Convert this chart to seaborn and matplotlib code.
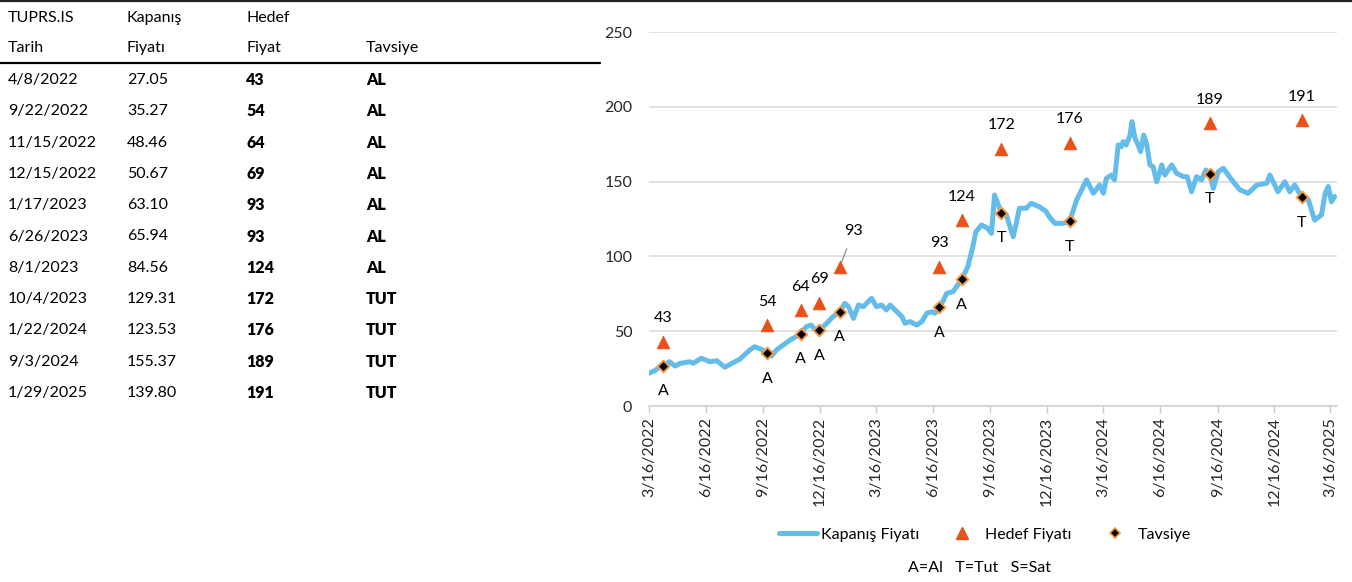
import matplotlib
matplotlib.use("Agg")
import matplotlib.pyplot as plt
from matplotlib.lines import Line2D
import seaborn as sns
import pandas as pd

# ---------------- data ----------------
price_dates = [
    "2022-03-16", "2022-03-25", "2022-04-02", "2022-04-08", "2022-04-18", "2022-04-27",
    "2022-05-05", "2022-05-21", "2022-05-26", "2022-06-08", "2022-06-22", "2022-07-03",
    "2022-07-16", "2022-07-29", "2022-08-09", "2022-08-25", "2022-09-02", "2022-09-13",
    "2022-09-22", "2022-09-29", "2022-10-07", "2022-10-18", "2022-10-29", "2022-11-08",
    "2022-11-15", "2022-11-24", "2022-12-02", "2022-12-10", "2022-12-15", "2022-12-27",
    "2023-01-06", "2023-01-17", "2023-01-25", "2023-01-31", "2023-02-08", "2023-02-16",
    "2023-02-24", "2023-03-09", "2023-03-17", "2023-03-25", "2023-04-02", "2023-04-08",
    "2023-04-19", "2023-04-27", "2023-05-02", "2023-05-10", "2023-05-21", "2023-05-29",
    "2023-06-06", "2023-06-14", "2023-06-19", "2023-06-26", "2023-07-03", "2023-07-08",
    "2023-07-18",
    "2023-08-01", "2023-08-11", "2023-08-19", "2023-08-24", "2023-09-02", "2023-09-12",
    "2023-09-18", "2023-09-23", "2023-09-28", "2023-10-04", "2023-10-12", "2023-10-23",
    "2023-10-28", "2023-11-02", "2023-11-13", "2023-11-21", "2023-12-04", "2023-12-15",
    "2023-12-20", "2023-12-29", "2024-01-11", "2024-01-22", "2024-02-02", "2024-02-18",
    "2024-02-29", "2024-03-10", "2024-03-16", "2024-03-21", "2024-03-29", "2024-04-03",
    "2024-04-09", "2024-04-14", "2024-04-17", "2024-04-22", "2024-04-28", "2024-05-01",
    "2024-05-06", "2024-05-11", "2024-05-15", "2024-05-20", "2024-05-25", "2024-05-30",
    "2024-06-04", "2024-06-10", "2024-06-18", "2024-06-23", "2024-07-04", "2024-07-12",
    "2024-07-23", "2024-07-29", "2024-08-05", "2024-08-13", "2024-08-21", "2024-08-28",
    "2024-09-03", "2024-09-09", "2024-09-17", "2024-09-25", "2024-10-11",
    "2024-10-22", "2024-11-04", "2024-11-18", "2024-12-04", "2024-12-09", "2024-12-22",
    "2025-01-02", "2025-01-10", "2025-01-18", "2025-01-29", "2025-02-09", "2025-02-19",
    "2025-03-02", "2025-03-08", "2025-03-13", "2025-03-18", "2025-03-23",
]
price_values = [
    21.9, 23.6, 25.9, 27.05, 29.6, 26.7,
    28.5, 29.6, 28.5, 31.9, 29.6, 30.3,
    25.9, 28.9, 31.2, 37.4, 39.6, 37.9,
    35.27, 33.4, 37.4, 40.8, 44.1, 46.5,
    48.46, 53.0, 54.1, 50.3, 50.67, 55.3,
    59.7, 63.10, 68.6, 66.4, 58.6, 67.5,
    66.4, 72.0, 66.4, 67.5, 64.2, 67.5,
    63.0, 59.7, 55.3, 56.4, 54.1, 56.4,
    62.0, 63.0, 62.0, 65.94, 70.9, 75.3,
    76.4,
    84.56, 93.1, 106.5, 116.5, 121.0, 118.8,
    115.4, 141.0, 135.5, 129.31, 127.7, 113.2,
    122.1, 132.2, 132.2, 135.5, 133.2, 130.0,
    126.5, 122.1, 122.1, 123.53, 137.7, 151.1,
    142.2, 147.7, 142.2, 152.2, 154.4, 151.1,
    174.5, 173.3, 176.7, 174.5, 181.1, 190.1,
    178.9, 174.5, 170.0, 181.1, 174.5, 161.1,
    160.0, 149.9, 161.1, 154.4, 161.1, 155.5,
    153.3, 153.3, 143.2, 153.3, 151.1, 157.8,
    155.37, 145.5, 156.6, 158.9, 149.9,
    144.4, 142.2, 147.7, 148.9, 154.4, 143.2,
    149.9, 143.2, 147.7, 139.80, 137.7, 124.3,
    127.7, 142.2, 146.7, 136.6, 140.0,
]

ticker = "TUPRS.IS"
rec_dates = ["2022-04-08", "2022-09-22", "2022-11-15", "2022-12-15", "2023-01-17",
             "2023-06-26", "2023-08-01", "2023-10-04", "2024-01-22", "2024-09-03", "2025-01-29"]
rec_close = [27.05, 35.27, 48.46, 50.67, 63.10, 65.94, 84.56, 129.31, 123.53, 155.37, 139.80]
rec_target = [43, 54, 64, 69, 93, 93, 124, 172, 176, 189, 191]
rec_code = ["AL", "AL", "AL", "AL", "AL", "AL", "AL", "TUT", "TUT", "TUT", "TUT"]
rec_letter = {"AL": "A", "TUT": "T", "SAT": "S"}

header_row1 = [ticker, "Kapanış", "Hedef", ""]
header_row2 = ["Tarih", "Fiyatı", "Fiyat", "Tavsiye"]
legend_labels = ["Kapanış Fiyatı", "Hedef Fiyatı", "Tavsiye"]
legend_note = "A=Al   T=Tut   S=Sat"

tick_start = "2022-03-16"
n_ticks = 13
y_ticks = [0, 50, 100, 150, 200, 250]

# ---------------- style ----------------
LINE_C = "#63BCEA"
TRI_C = "#EA5119"
DIA_EDGE = "#F39A4A"
FONT = ["Lato", "DejaVu Sans"]
FS = 11.5

sns.set_theme(style="white")
plt.rcParams["font.family"] = FONT
plt.rcParams["text.color"] = "#000000"

W, H = 1352, 582
fig = plt.figure(figsize=(W / 100, H / 100), dpi=100)

def fx(px):
    return px / W

def fy(py):
    return 1 - py / H

# ---------------- table ----------------
col_x = [8, 127, 246, 366]
for i, t in enumerate(header_row1):
    fig.text(fx(col_x[i]), fy(18), t, fontsize=FS, va="center", ha="left")
for i, t in enumerate(header_row2):
    fig.text(fx(col_x[i]), fy(48), t, fontsize=FS, va="center", ha="left")

fig.add_artist(Line2D([0, fx(600)], [fy(63), fy(63)], transform=fig.transFigure,
                      color="black", lw=1.6))
fig.add_artist(Line2D([0, 1], [fy(1), fy(1)], transform=fig.transFigure,
                      color="#222222", lw=1.6))

for r, (d, c, tg, code) in enumerate(zip(rec_dates, rec_close, rec_target, rec_code)):
    y = fy(80 + r * 31.3)
    ts = pd.Timestamp(d)
    fig.text(fx(col_x[0]), y, f"{ts.month}/{ts.day}/{ts.year}", fontsize=FS, va="center")
    fig.text(fx(col_x[1]), y, f"{c:.2f}", fontsize=FS, va="center")
    fig.text(fx(col_x[2]), y, f"{tg}", fontsize=FS, va="center", fontweight="heavy")
    fig.text(fx(col_x[3]), y, code, fontsize=FS, va="center", fontweight="heavy")

# ---------------- chart ----------------
ax = fig.add_axes([fx(649), fy(406), fx(1337) - fx(649), fy(32) - fy(406)])

price_df = pd.DataFrame({"Tarih": pd.to_datetime(price_dates), "Fiyat": price_values})
rec_df = pd.DataFrame({"Tarih": pd.to_datetime(rec_dates), "Kapanis": rec_close,
                       "Hedef": rec_target, "Kod": rec_code})

sns.lineplot(data=price_df, x="Tarih", y="Fiyat", ax=ax, color=LINE_C, lw=3.6,
             zorder=2, legend=False)
sns.scatterplot(data=rec_df, x="Tarih", y="Hedef", ax=ax, marker="^", s=85,
                color=TRI_C, edgecolor=TRI_C, linewidth=0.5, zorder=3, legend=False)
sns.scatterplot(data=rec_df, x="Tarih", y="Kapanis", ax=ax, marker="D", s=36,
                color="black", edgecolor=DIA_EDGE, linewidth=1.4, zorder=4, legend=False)

for i, row in rec_df.iterrows():
    if i == 4:
        ax.annotate(f"{row.Hedef}", xy=(row.Tarih, row.Hedef), xytext=(10, 26),
                    textcoords="offset points", ha="center", va="center", fontsize=FS,
                    arrowprops=dict(arrowstyle="-", color="#8c8c8c", lw=0.9,
                                    shrinkA=6, shrinkB=3))
    else:
        ax.annotate(f"{row.Hedef}", xy=(row.Tarih, row.Hedef), xytext=(0, 17),
                    textcoords="offset points", ha="center", va="center", fontsize=FS)
    ax.annotate(rec_letter[row.Kod], xy=(row.Tarih, row.Kapanis), xytext=(0, -18.5),
                textcoords="offset points", ha="center", va="center", fontsize=FS)

ticks = pd.date_range(tick_start, periods=n_ticks, freq=pd.DateOffset(months=3))
ax.set_xlim(pd.Timestamp(tick_start), pd.Timestamp("2025-03-27"))
ax.set_xticks(ticks)
ax.set_xticklabels([f"{t.month}/{t.day}/{t.year}" for t in ticks], rotation=90,
                   fontsize=FS)
ax.set_ylim(0, 250)
ax.set_yticks(y_ticks)
ax.set_yticklabels([str(v) for v in y_ticks], fontsize=FS)
ax.set_xlabel("")
ax.set_ylabel("")
ax.grid(axis="y", color="#d9d9d9", lw=1.1)
ax.grid(axis="x", visible=False)
for s in ["top", "right", "left"]:
    ax.spines[s].set_visible(False)
ax.spines["bottom"].set_color("#d0d0d0")
ax.spines["bottom"].set_linewidth(1.1)
ax.tick_params(axis="x", direction="out", length=5, color="#c8c8c8", width=1, pad=3,
               bottom=True)
ax.tick_params(axis="y", length=0, pad=12)

# ---------------- legend ----------------
handles = [
    Line2D([], [], color=LINE_C, lw=3.6),
    Line2D([], [], ls="", marker="^", ms=9, color=TRI_C),
    Line2D([], [], ls="", marker="D", ms=5.5, markerfacecolor="black",
           markeredgecolor=DIA_EDGE, markeredgewidth=1.2),
]
fig.legend(handles, legend_labels, loc="center", bbox_to_anchor=(fx(985), fy(535)),
           ncol=3, frameon=False, fontsize=FS, handlelength=2.4, columnspacing=1.5,
           handletextpad=0.25)
fig.text(fx(980), fy(568), legend_note, ha="center", va="center", fontsize=FS)

fig.savefig("out.png", dpi=100)
